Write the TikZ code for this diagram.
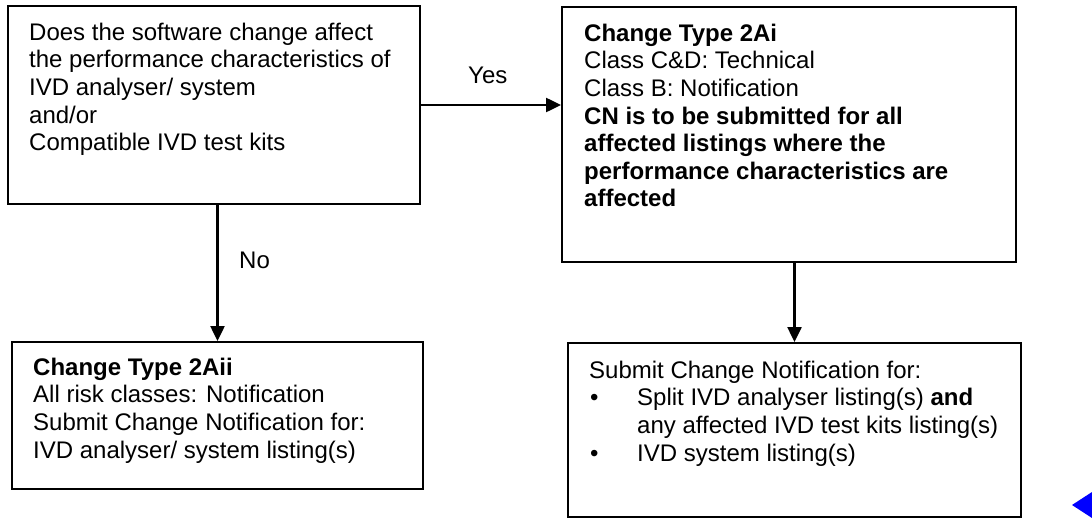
\documentclass[tikz,border=0pt]{standalone}
\usepackage{fontspec}
\setmainfont{Liberation Sans}
\usetikzlibrary{arrows.meta}
\begin{document}
\begin{tikzpicture}[x=1pt,y=-1pt,
  box/.style={draw=black, line width=2pt, inner sep=0pt},
  txt/.style={anchor=north west, inner sep=0pt, align=left, font=\fontsize{24}{27.6}\selectfont},
  lbl/.style={anchor=base west, inner sep=0pt, font=\fontsize{24}{27.6}\selectfont},
  arr/.style={line width=2.5pt, -{Triangle[length=15pt,width=14pt]}}
]
\useasboundingbox (0,0) rectangle (1092,519);
% boxes
\node[box, minimum width=412pt, minimum height=198pt] (q) at (214,105) {};
\node[box, minimum width=454pt, minimum height=255pt] (a) at (789,134.5) {};
\node[box, minimum width=411pt, minimum height=147pt] (n) at (217.5,415.5) {};
\node[box, minimum width=453pt, minimum height=174pt] (s) at (794.5,430) {};
% texts
\node[txt] (qt) at (29,20.7) {\strut Does the software change affect\\
the performance characteristics of\\
IVD analyser/ system\\
and/or\\
Compatible IVD test kits};
\node[txt] (at) at (584,21.7) {\strut\bfseries Change Type 2Ai\\
Class C\&D: Technical\\
Class B: Notification\\
\bfseries CN is to be submitted for all\\
\bfseries affected listings where the\\
\bfseries performance characteristics are\\
\bfseries affected};
\node[txt] (nt) at (33,355.7) {\strut\bfseries Change Type 2Aii\\
All risk classes: Notification\\
Submit Change Notification for:\\
IVD analyser/ system listing(s)};
\node[txt] (st) at (589,358.7) {\strut Submit Change Notification for:\\
\makebox[48pt][l]{\hspace{1pt}\textbullet}Split IVD analyser listing(s) \textbf{and}\\
\hspace*{48pt}any affected IVD test kits listing(s)\\
\makebox[48pt][l]{\hspace{1pt}\textbullet}IVD system listing(s)};
% connectors
\draw[arr] (q.east) -- (q.east -| a.west);
\draw[arr] (q.south -| n.north) -- (n.north);
\draw[arr] (a.south -| s.north) -- (s.north);
% labels
\node[lbl] (yes) at (468,83) {Yes};
\node[lbl] (no) at (239,268) {No};
% blue marker
\fill[blue] (1072,505) -- (1092,492) -- (1092,518) -- cycle;
\end{tikzpicture}
\end{document}
